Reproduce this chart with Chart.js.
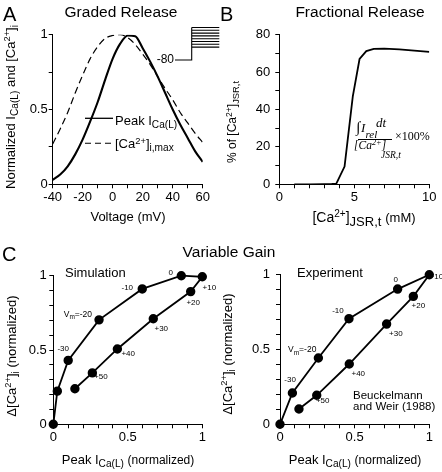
<!DOCTYPE html>
<html><head><meta charset="utf-8">
<script src="https://cdn.jsdelivr.net/npm/chart.js@4.4.1/dist/chart.umd.min.js"></script>
<style>
html,body{margin:0;padding:0;background:#fff;}
#wrap{position:relative;width:442px;height:472px;overflow:hidden;font-family:"Liberation Sans",Arial,Helvetica,sans-serif;color:#000;}
canvas{position:absolute;}
.t{position:absolute;white-space:nowrap;line-height:1;}
.t sub{font-size:78%;vertical-align:-0.32em;line-height:0;}
.t sup{font-size:72%;vertical-align:0.48em;line-height:0;}
.cx{transform:translateX(-50%);}
.rot{transform:translate(-50%,-50%) rotate(-90deg);}
.serif{font-family:"Liberation Serif","Times New Roman",serif;font-style:italic;}
</style></head>
<body><div id="wrap">
<canvas id="cA" width="220" height="236" style="left:0;top:0"></canvas>
<canvas id="cB" width="222" height="236" style="left:220px;top:0"></canvas>
<canvas id="cC1" width="220" height="232" style="left:0;top:240px"></canvas>
<canvas id="cC2" width="222" height="232" style="left:220px;top:240px"></canvas>

<div class="t" style="left:3px;top:4px;font-size:20px">A</div>
<div class="t" style="left:220px;top:4px;font-size:20px">B</div>
<div class="t" style="left:2px;top:244px;font-size:20px">C</div>
<div class="t cx" style="left:121px;top:4px;font-size:15.5px">Graded Release</div>
<div class="t cx" style="left:360px;top:4px;font-size:15.5px">Fractional Release</div>
<div class="t cx" style="left:229px;top:244px;font-size:15.5px">Variable Gain</div>

<div class="t cx" style="left:128px;top:210px;font-size:13px">Voltage (mV)</div>
<div class="t cx" style="left:364px;top:210px;font-size:14px">[Ca<sup>2+</sup>]<sub style="font-size:13px">JSR,t</sub> <span style="font-size:13px">(mM)</span></div>
<div class="t cx" style="left:128px;top:453px;font-size:13px">Peak I<sub>Ca(L)</sub> <span style="font-size:12px">(normalized)</span></div>
<div class="t cx" style="left:355px;top:453px;font-size:13px">Peak I<sub>Ca(L)</sub> <span style="font-size:12px">(normalized)</span></div>

<div class="t rot" style="left:10px;top:107px;font-size:13px">Normalized I<sub>Ca(L)</sub> and [Ca<sup>2+</sup>]<sub>i</sub></div>
<div class="t rot" style="left:232px;top:122px;font-size:12px">% of [Ca<sup>2+</sup>]<sub>JSR,t</sub></div>
<div class="t rot" style="left:11px;top:356px;font-size:13px">Δ[Ca<sup>2+</sup>]<sub>i</sub> (normalized)</div>
<div class="t rot" style="left:227px;top:354px;font-size:13px">Δ[Ca<sup>2+</sup>]<sub>i</sub> (normalized)</div>

<div class="t" style="left:115px;top:114px;font-size:13px">Peak I<sub>Ca(L)</sub></div>
<div class="t" style="left:115px;top:137px;font-size:13px">[Ca<sup>2+</sup>]<sub>i,max</sub></div>
<div class="t" style="right:268px;top:53px;font-size:12px">-80</div>

<div class="t" style="left:65px;top:266px;font-size:13px">Simulation</div>
<div class="t" style="left:297px;top:266px;font-size:13px">Experiment</div>
<div class="t" style="left:353px;top:390px;font-size:11.5px">Beuckelmann</div>
<div class="t" style="left:353px;top:401px;font-size:11.5px">and Weir (1988)</div>

<!-- formula in panel B -->
<div class="t serif" style="left:356px;top:119.5px;font-size:15px;font-style:normal">∫</div>
<div class="t serif" style="left:361px;top:121.4px;font-size:13px">I</div>
<div class="t serif" style="left:365.5px;top:128.8px;font-size:11px">rel</div>
<div class="t serif" style="left:376px;top:115.8px;font-size:13px">dt</div>
<div style="position:absolute;left:358px;top:139px;width:34px;height:1px;background:#000"></div>
<div class="t serif" style="left:354px;top:140px;font-size:11.5px">[Ca<sup>2+</sup>]</div>
<div class="t serif" style="left:381px;top:150.5px;font-size:9.5px">JSR,t</div>
<div class="t serif" style="left:395px;top:129.5px;font-size:12px;font-style:normal">×100%</div>
</div>
<script>
// ---------- DATA ----------
const voltage   = [-40,-35,-30,-25,-20,-15,-10,-5,0,5,10,15,20,25,30,35,40,45,50,55,60];
const peakICaL  = [0.03,0.065,0.12,0.20,0.30,0.42,0.55,0.70,0.84,0.94,0.995,0.99,0.91,0.82,0.72,0.61,0.50,0.40,0.31,0.22,0.15];
const caMax     = [0.27,0.37,0.48,0.61,0.73,0.84,0.92,0.975,0.995,1.0,0.98,0.935,0.87,0.80,0.72,0.64,0.565,0.48,0.41,0.34,0.28];
const ticksA_x  = [-40,-20,0,20,40,60];
const ticksA_y  = [0,0.5,1];

const jsrCa       = [1,2,3,3.5,3.8,4.35,4.9,5.35,5.8,6.3,7,8,9,10];
const fracRelease = [0,0,0.1,0.2,0.4,9.5,47,67,71.2,72.4,72.5,72.1,71.5,70.8];
const ticksB_x  = [0,5,10];
const ticksB_y  = [0,20,40,60,80];

const simIca    = [0,0.027,0.10,0.307,0.597,0.859,1.0,0.922,0.671,0.43,0.262,0.145];
const simCa     = [0,0.223,0.43,0.703,0.911,1.0,0.993,0.893,0.71,0.507,0.346,0.239];
const simLabels = ['','','-30','Vm=-20','-10','0','+10','+20','+30','+40','+50',''];
const expIca    = [0,0.083,0.257,0.462,0.788,1.0,0.893,0.714,0.464,0.246,0.127];
const expCa     = [0,0.209,0.443,0.706,0.904,1.0,0.855,0.67,0.403,0.194,0.102];
const expLabels = ['','-30','Vm=-20','-10','0','+10','+20','+30','+40','+50',''];
const ticksC    = [0,0.5,1];

// ---------- STYLE ----------
const FONT = '"Liberation Sans", Arial, Helvetica, sans-serif';
const simLabelOffsets = [[0,0],[0,0],[-5,-12],[-7,-5],[-15,-1],[-10.5,-2.5],[7,11],[2.5,11.5],[8,10],[10.8,5],[8.5,3.5],[0,0]];
const expLabelOffsets = [[0,0],[-2.3,-13.3],[-2,-8],[-11,-8],[-2,-9],[7,2.5],[5,9.5],[9.3,10],[9,10],[6,6],[0,0]];
const insetStyle = {baseY:60, x0:175, xStep:191.7, x1:219.3, top:27.5, gap:2.8, n:8};
const legendStyle = {x0:85, x1:113, ySolid:118.3, yDash:143.3};

const pts = (xs, ys) => xs.map((x,i)=>({x, y:ys[i]}));
const near = (arr, v) => arr.find(t => Math.abs(t - v) < 1e-6);

function axis(min, max, step, labels, pad){
  return {
    type:'linear', min, max,
    ticks:{stepSize:step, autoSkip:false, maxRotation:0, color:'#000', padding:pad,
      font:{family:FONT, size:13},
      callback:(v)=>{ const t = near(labels, v); return t===undefined ? '' : String(t); }},
    grid:{display:true, drawOnChartArea:false, drawTicks:true, tickLength:4, color:'#000', lineWidth:1},
    border:{display:true, color:'#000', width:1}
  };
}

const pointLabelPlugin = {
  id:'ptlabels',
  afterDatasetsDraw(chart, args, o){
    if(!o.labels) return;
    const meta = chart.getDatasetMeta(0), ctx = chart.ctx;
    ctx.save(); ctx.fillStyle='#000'; ctx.textBaseline='middle';
    meta.data.forEach((p,i)=>{
      const lab = o.labels[i]; if(!lab) return;
      const [dx,dy] = o.offsets[i];
      const x = p.x+dx, y = p.y+dy;
      if(lab.startsWith('Vm')){
        const rest = lab.slice(2);
        ctx.font='8.5px '+FONT; const wV=ctx.measureText('V').width, wR=ctx.measureText(rest).width;
        ctx.font='6.5px '+FONT; const wm=ctx.measureText('m').width;
        let sx = x-(wV+wm+wR); ctx.textAlign='left';
        ctx.font='8.5px '+FONT; ctx.fillText('V',sx,y);
        ctx.font='6.5px '+FONT; ctx.fillText('m',sx+wV,y+2.8);
        ctx.font='8.5px '+FONT; ctx.fillText(rest,sx+wV+wm,y);
      } else {
        ctx.textAlign='center'; ctx.font='8px '+FONT; ctx.fillText(lab,x,y);
      }
    });
    ctx.restore();
  }
};

const insetPlugin = {
  id:'inset',
  afterDraw(chart, args, o){
    if(!o.show) return;
    const ctx = chart.ctx, s = insetStyle, L = legendStyle;
    ctx.save(); ctx.strokeStyle='#000'; ctx.lineWidth=1.1;
    ctx.beginPath();
    ctx.moveTo(s.x0, s.baseY); ctx.lineTo(s.xStep, s.baseY); ctx.lineTo(s.xStep, s.top);
    for(let i=0;i<s.n;i++){ const y=s.top+i*s.gap; ctx.moveTo(s.xStep,y); ctx.lineTo(s.x1,y); }
    ctx.stroke();
    ctx.lineWidth=1.3; ctx.beginPath(); ctx.moveTo(L.x0,L.ySolid); ctx.lineTo(L.x1,L.ySolid); ctx.stroke();
    ctx.lineWidth=1.1; ctx.setLineDash([6,4]); ctx.beginPath(); ctx.moveTo(L.x0,L.yDash); ctx.lineTo(L.x1+2,L.yDash); ctx.stroke();
    ctx.restore();
  }
};

function make(id, W, H, area, scales, datasets, extra){
  const YW=30, XH=20;
  return new Chart(document.getElementById(id), {
    type:'scatter',
    data:{datasets},
    options:{
      responsive:false, animation:false, devicePixelRatio:1,
      layout:{padding:{left:area.l-YW, top:area.t, right:W-area.r, bottom:H-area.b-XH}},
      plugins:Object.assign({legend:{display:false}, tooltip:{enabled:false}}, extra||{}),
      scales:{
        x:Object.assign(scales.x,{afterFit:s=>{s.height=XH;}}),
        y:Object.assign(scales.y,{afterFit:s=>{s.width=YW;}})
      }
    },
    plugins:[pointLabelPlugin, insetPlugin]
  });
}

// Panel A
make('cA',220,236,{l:52.7,t:34.7,r:202.7,b:184.3},
  {x:axis(-40,60,10,ticksA_x,1), y:axis(0,1,0.25,ticksA_y,1)},
  [
    {data:pts(voltage,peakICaL), showLine:true, borderColor:'#000', borderWidth:2.1, pointRadius:0, cubicInterpolationMode:'monotone'},
    {data:pts(voltage,caMax), showLine:true, borderColor:'#000', borderWidth:1.2, borderDash:[7,4], pointRadius:0, cubicInterpolationMode:'monotone'}
  ], {inset:{show:true}});

// Panel B
make('cB',222,236,{l:59.3,t:34.7,r:209.3,b:184.3},
  {x:axis(0,10,1,ticksB_x,1), y:axis(0,80,10,ticksB_y,5)},
  [{data:pts(jsrCa,fracRelease), showLine:true, borderColor:'#000', borderWidth:1.8, pointRadius:0, tension:0}]);

// Panel C left
make('cC1',220,232,{l:53.3,t:35.7,r:202.3,b:184.3},
  {x:axis(0,1,0.1,ticksC,1), y:axis(0,1,0.1,ticksC,2.5)},
  [{data:pts(simIca,simCa), showLine:true, borderColor:'#000', borderWidth:1.8, pointRadius:3.8,
    pointBackgroundColor:'#000', pointBorderColor:'#000', clip:false, tension:0}],
  {ptlabels:{labels:simLabels, offsets:simLabelOffsets}});

// Panel C right
make('cC2',222,232,{l:60,t:34.7,r:209.3,b:184.3},
  {x:axis(0,1,0.1,ticksC,1), y:axis(0,1,0.1,ticksC,6)},
  [{data:pts(expIca,expCa), showLine:true, borderColor:'#000', borderWidth:1.8, pointRadius:3.8,
    pointBackgroundColor:'#000', pointBorderColor:'#000', clip:false, tension:0}],
  {ptlabels:{labels:expLabels, offsets:expLabelOffsets}});
</script>
</body></html>
